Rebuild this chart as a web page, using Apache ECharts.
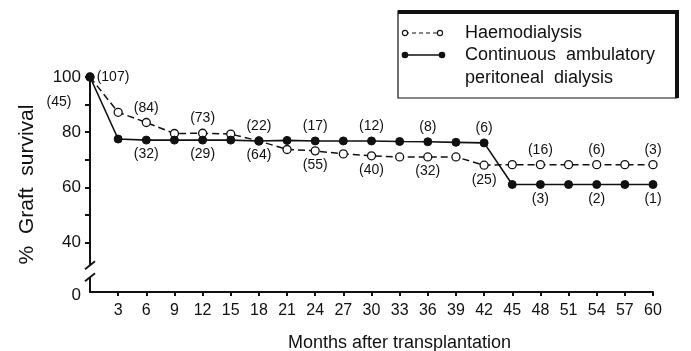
<!DOCTYPE html>
<html>
<head>
<meta charset="utf-8">
<script src="https://cdn.jsdelivr.net/npm/echarts@6/dist/echarts.min.js"></script>
<style>html,body{margin:0;padding:0;background:#fff;}#c{width:691px;height:351px;}</style>
</head>
<body>
<div id="c"></div>
<script>
const months = [0,3,6,9,12,15,18,21,24,27,30,33,36,39,42,45,48,51,54,57,60];
const haemoSurvival = [100,87.2,83.5,79.5,79.6,79.3,76.8,73.7,73.2,72.1,71.4,71.0,71.0,71.0,68.0,68.2,68.2,68.2,68.2,68.2,68.2];
const capdSurvival = [100,77.5,77.1,77.1,77.1,77.1,76.8,77.0,76.8,76.8,76.8,76.6,76.5,76.3,76.1,61.0,61.0,61.0,61.0,61.0,61.0];
const haemoCounts = [107,null,84,null,73,null,64,null,55,null,40,null,32,null,25,null,16,null,6,null,3];
const capdCounts = [45,null,32,null,29,null,22,null,17,null,12,null,8,null,6,null,3,null,2,null,1];
const xTicks = [3,6,9,12,15,18,21,24,27,30,33,36,39,42,45,48,51,54,57,60];
const yTickLabels = [22,40,60,80,100];
const yTicks = [40,50,60,70,80,90,100];
const seriesNames = ['Haemodialysis','Continuous ambulatory peritoneal dialysis'];

const FONT = '"Liberation Sans", Arial, sans-serif';
const INK = '#111';

function labelFor(count, pos, extra) {
  if (count == null) return { show: false };
  return Object.assign({
    show: true, position: pos, distance: 3,
    formatter: '(' + count + ')',
    color: INK, fontSize: 14, fontFamily: FONT
  }, extra || {});
}
const haemoData = months.map((m, i) => {
  let lab;
  if (m === 0) lab = labelFor(haemoCounts[i], 'right', { distance: 2, offset: [0, 0] });
  else lab = labelFor(haemoCounts[i], (m >= 18 && m <= 42) ? 'bottom' : 'top');
  return { value: [m, haemoSurvival[i]], label: lab };
});
const capdData = months.map((m, i) => {
  let lab;
  if (m === 0) lab = labelFor(capdCounts[i], 'left', { distance: 4, offset: [-10, 25] });
  else lab = labelFor(capdCounts[i], (m >= 18 && m <= 42) ? 'top' : 'bottom');
  return { value: [m, capdSurvival[i]], label: lab };
});

const chart = echarts.init(document.getElementById('c'), null, { renderer: 'canvas' });
chart.setOption({
  animation: false,
  backgroundColor: '#fff',
  grid: { left: 90, right: 38, top: 77, bottom: 59, containLabel: false, outerBoundsMode: 'none' },
  xAxis: {
    type: 'value', min: 0, max: 60, interval: 3,
    name: 'Months after transplantation', nameLocation: 'middle', nameGap: 42,
    nameTextStyle: { color: INK, fontSize: 18, fontFamily: FONT, padding: [0, 0, 0, 56] },
    axisLine: { show: true, onZero: false, lineStyle: { color: INK, width: 2 } },
    axisTick: { show: true, length: 4, lineStyle: { color: INK, width: 2 }, customValues: xTicks },
    axisLabel: { color: INK, fontSize: 16, fontFamily: FONT, margin: 11, customValues: xTicks },
    splitLine: { show: false }
  },
  yAxis: {
    type: 'value', min: 22, max: 100,
    name: '%  Graft  survival', nameLocation: 'middle', nameGap: 52,
    nameTextStyle: { color: INK, fontSize: 21, fontFamily: FONT },
    axisLine: { show: true, onZero: false, lineStyle: { color: INK, width: 2 } },
    axisTick: { show: true, length: 5, lineStyle: { color: INK, width: 2 }, customValues: yTicks },
    axisLabel: { color: INK, fontSize: 17, fontFamily: FONT, margin: 9, customValues: yTickLabels,
      formatter: v => (v < 30 ? '{z|0}' : String(v)),
      rich: { z: { color: INK, fontSize: 17, fontFamily: FONT, padding: [6, 0, 0, 0] } } },
    splitLine: { show: false }
  },
  series: [
    {
      name: seriesNames[0], type: 'line', data: haemoData, z: 2,
      symbol: 'circle', symbolSize: 8,
      itemStyle: { color: '#fff', borderColor: INK, borderWidth: 1.3 },
      lineStyle: { color: INK, width: 1.5, type: [7, 4] }
    },
    {
      name: seriesNames[1], type: 'line', data: capdData, z: 3,
      symbol: 'circle', symbolSize: 8,
      itemStyle: { color: INK, borderColor: INK, borderWidth: 1 },
      lineStyle: { color: INK, width: 1.6 }
    }
  ]
});

// axis break marks and legend box (decorations)
const p0 = chart.convertToPixel({ gridIndex: 0 }, [0, 29.5]);
const ax = p0[0], cy = p0[1];
chart.setOption({
  graphic: [
    { type: 'rect', shape: { x: ax - 4, y: cy - 6, width: 8, height: 12 }, style: { fill: '#fff' }, z: 100 },
    { type: 'line', shape: { x1: ax - 5, y1: cy - 2, x2: ax + 5, y2: cy - 10 }, style: { stroke: INK, lineWidth: 1.8 }, z: 101 },
    { type: 'line', shape: { x1: ax - 5, y1: cy + 10, x2: ax + 5, y2: cy + 2 }, style: { stroke: INK, lineWidth: 1.8 }, z: 101 },
    { type: 'rect', shape: { x: 398, y: 11, width: 279, height: 87 }, style: { fill: '#fff', stroke: INK, lineWidth: 1.2 }, z: 100 },
    { type: 'line', shape: { x1: 398, y1: 12, x2: 679, y2: 12 }, style: { stroke: INK, lineWidth: 4 }, z: 101 },
    { type: 'line', shape: { x1: 677, y1: 11, x2: 677, y2: 98 }, style: { stroke: INK, lineWidth: 4 }, z: 101 },
    { type: 'line', shape: { x1: 405, y1: 33, x2: 440, y2: 33 }, style: { stroke: INK, lineWidth: 1.2, lineDash: [4, 3] }, z: 101 },
    { type: 'circle', shape: { cx: 405, cy: 33, r: 2.6 }, style: { fill: '#fff', stroke: INK, lineWidth: 1.1 }, z: 102 },
    { type: 'circle', shape: { cx: 440, cy: 33, r: 2.6 }, style: { fill: '#fff', stroke: INK, lineWidth: 1.1 }, z: 102 },
    { type: 'text', x: 465, y: 33, style: { text: seriesNames[0], fill: INK, font: '18px ' + FONT, verticalAlign: 'middle' }, z: 102 },
    { type: 'line', shape: { x1: 405, y1: 55, x2: 442, y2: 55 }, style: { stroke: INK, lineWidth: 1.5 }, z: 101 },
    { type: 'circle', shape: { cx: 405, cy: 55, r: 3.3 }, style: { fill: INK }, z: 102 },
    { type: 'circle', shape: { cx: 442, cy: 55, r: 3.3 }, style: { fill: INK }, z: 102 },
    { type: 'text', x: 465, y: 55, style: { text: 'Continuous  ambulatory', fill: INK, font: '18px ' + FONT, verticalAlign: 'middle' }, z: 102 },
    { type: 'text', x: 465, y: 78, style: { text: 'peritoneal  dialysis', fill: INK, font: '18px ' + FONT, verticalAlign: 'middle' }, z: 102 }
  ]
});
</script>
</body>
</html>
